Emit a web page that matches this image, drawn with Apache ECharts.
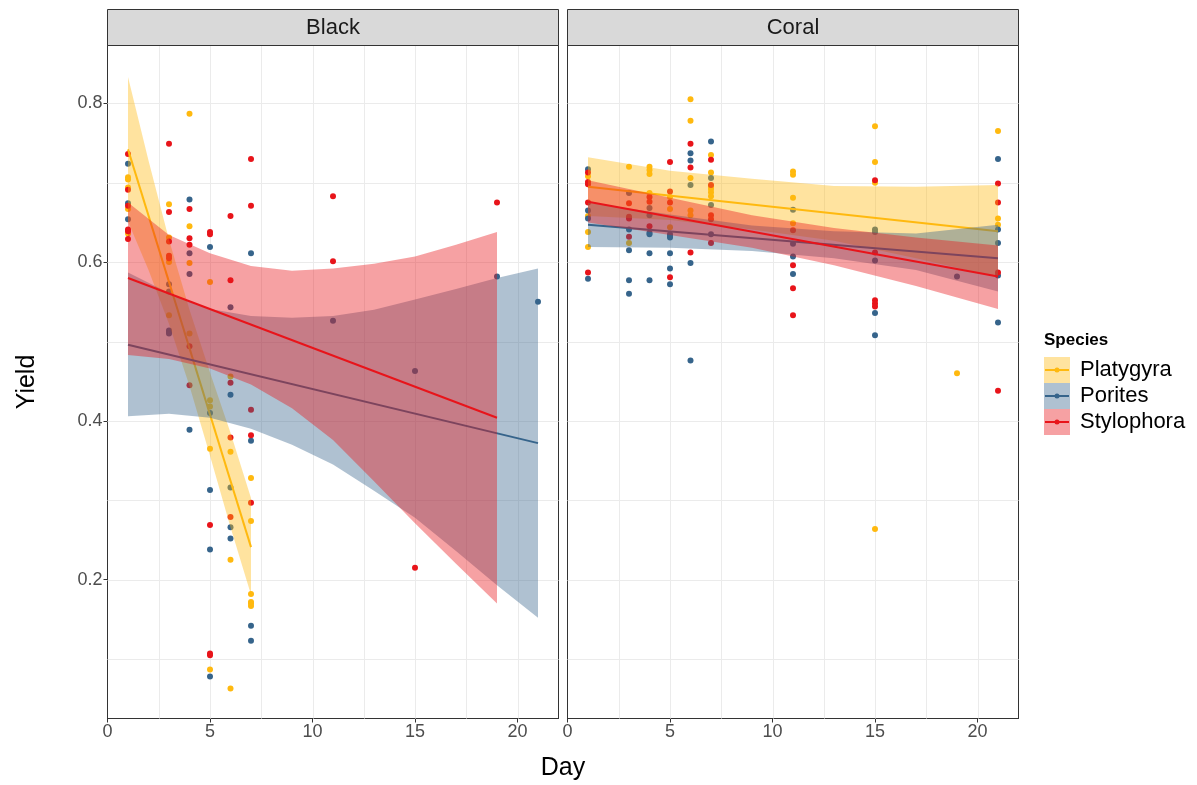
<!DOCTYPE html>
<html><head><meta charset="utf-8">
<script src="https://cdn.jsdelivr.net/npm/echarts@6/dist/echarts.min.js"></script>
<style>html,body{margin:0;padding:0;background:#fff}#c{width:1197px;height:785px}</style>
</head><body><div id="c"></div>
<script>
// ---------- data ----------
const panels = ['Black', 'Coral'];
const species = ['Platygyra', 'Porites', 'Stylophora'];
const xTicks = [0, 5, 10, 15, 20];
const yTicks = [0.2, 0.4, 0.6, 0.8];
const xGridValues = [2.5, 5, 7.5, 10, 12.5, 15, 17.5, 20];
const yGridValues = [0.1, 0.2, 0.3, 0.4, 0.5, 0.6, 0.7, 0.8];
const colors = ['#FFB90F', '#36648B', '#E8141A'];

// points [day, yield]
const blackPlatygyra = [
  [1,0.707],[1,0.704],[1,0.694],[1,0.667],[1,0.636],
  [3,0.673],[3,0.631],[3,0.600],[3,0.533],
  [4,0.787],[4,0.645],[4,0.599],[4,0.510],
  [5,0.575],[5,0.426],[5,0.418],[5,0.365],[5,0.087],
  [6,0.456],[6,0.361],[6,0.225],[6,0.063],
  [7,0.328],[7,0.274],[7,0.182],[7,0.172],[7,0.170],[7,0.167]
];
const blackPorites = [
  [1,0.724],[1,0.674],[1,0.654],
  [3,0.572],[3,0.563],[3,0.514],[3,0.512],[3,0.510],
  [4,0.679],[4,0.611],[4,0.585],[4,0.389],
  [5,0.619],[5,0.410],[5,0.313],[5,0.238],[5,0.078],
  [6,0.543],[6,0.433],[6,0.316],[6,0.266],[6,0.252],
  [7,0.611],[7,0.375],[7,0.142],[7,0.123],
  [11,0.526],[15,0.463],[19,0.582],[21,0.550]
];
const blackStylophora = [
  [1,0.736],[1,0.691],[1,0.671],[1,0.641],[1,0.639],[1,0.629],
  [3,0.749],[3,0.663],[3,0.626],[3,0.608],[3,0.605],
  [4,0.667],[4,0.630],[4,0.622],[4,0.494],[4,0.445],
  [5,0.638],[5,0.635],[5,0.269],[5,0.107],[5,0.105],
  [6,0.658],[6,0.577],[6,0.448],[6,0.379],[6,0.279],
  [7,0.730],[7,0.671],[7,0.414],[7,0.382],[7,0.297],
  [11,0.683],[11,0.601],[15,0.215],[19,0.675]
];
const coralPlatygyra = [
  [1,0.708],[1,0.658],[1,0.638],[1,0.619],
  [3,0.720],[3,0.624],
  [4,0.720],[4,0.716],[4,0.711],[4,0.687],
  [5,0.682],[5,0.667],[5,0.644],
  [6,0.805],[6,0.778],[6,0.706],[6,0.665],[6,0.659],
  [7,0.735],[7,0.713],[7,0.695],[7,0.692],[7,0.688],[7,0.683],
  [11,0.714],[11,0.710],[11,0.681],[11,0.649],
  [15,0.771],[15,0.726],[15,0.700],[15,0.264],
  [19,0.460],
  [21,0.765],[21,0.655],[21,0.647]
];
const coralPorites = [
  [1,0.717],[1,0.665],[1,0.655],[1,0.579],
  [3,0.687],[3,0.641],[3,0.615],[3,0.577],[3,0.560],
  [4,0.668],[4,0.659],[4,0.637],[4,0.635],[4,0.611],[4,0.577],
  [5,0.635],[5,0.633],[5,0.631],[5,0.611],[5,0.592],[5,0.572],
  [6,0.737],[6,0.728],[6,0.697],[6,0.599],[6,0.476],
  [7,0.752],[7,0.706],[7,0.672],[7,0.635],
  [11,0.666],[11,0.623],[11,0.607],[11,0.585],
  [15,0.641],[15,0.638],[15,0.602],[15,0.536],[15,0.508],
  [19,0.582],
  [21,0.730],[21,0.641],[21,0.624],[21,0.583],[21,0.524]
];
const coralStylophora = [
  [1,0.713],[1,0.701],[1,0.698],[1,0.675],[1,0.587],
  [3,0.674],[3,0.657],[3,0.655],[3,0.632],
  [4,0.682],[4,0.676],[4,0.645],
  [5,0.726],[5,0.689],[5,0.675],[5,0.581],
  [6,0.749],[6,0.719],[6,0.612],
  [7,0.729],[7,0.697],[7,0.659],[7,0.654],[7,0.624],
  [11,0.640],[11,0.596],[11,0.567],[11,0.533],
  [15,0.703],[15,0.612],[15,0.552],[15,0.548],[15,0.544],
  [21,0.699],[21,0.675],[21,0.587],[21,0.438]
];

// fitted lines [day, yield]
const blackPlatygyraFit = [[1,0.742],[7,0.241]];
const blackPoritesFit = [[1,0.496],[21,0.372]];
const blackStylophoraFit = [[1,0.580],[19,0.404]];
const coralPlatygyraFit = [[1,0.695],[21,0.639]];
const coralPoritesFit = [[1,0.647],[21,0.605]];
const coralStylophoraFit = [[1,0.676],[21,0.582]];

// confidence bands [day, lower, upper]
const blackPlatygyraBand = [[1,0.651,0.833],[2,0.590,0.728],[3,0.522,0.628],[4,0.444,0.540],[5,0.356,0.461],[6,0.266,0.385],[7,0.181,0.303]];
const blackPoritesBand = [[1,0.406,0.587],[3,0.409,0.561],[5,0.404,0.541],[7,0.390,0.532],[9,0.370,0.530],[11,0.345,0.532],[13,0.312,0.540],[15,0.278,0.553],[17,0.236,0.566],[19,0.193,0.580],[21,0.152,0.592]];
const blackStylophoraBand = [[1,0.483,0.675],[3,0.478,0.634],[5,0.466,0.611],[7,0.446,0.595],[9,0.416,0.589],[11,0.376,0.592],[13,0.324,0.598],[15,0.271,0.607],[17,0.220,0.622],[19,0.170,0.638]];
const coralPlatygyraBand = [[1,0.658,0.732],[5,0.653,0.715],[9,0.641,0.705],[13,0.627,0.696],[17,0.605,0.695],[21,0.581,0.697]];
const coralPoritesBand = [[1,0.619,0.675],[5,0.618,0.660],[9,0.614,0.646],[13,0.605,0.639],[17,0.590,0.636],[21,0.563,0.647]];
const coralStylophoraBand = [[1,0.650,0.703],[5,0.634,0.681],[9,0.618,0.659],[13,0.596,0.643],[17,0.570,0.631],[21,0.541,0.621]];

const pointSets = [[blackPlatygyra, blackPorites, blackStylophora], [coralPlatygyra, coralPorites, coralStylophora]];
const fitSets = [[blackPlatygyraFit, blackPoritesFit, blackStylophoraFit], [coralPlatygyraFit, coralPoritesFit, coralStylophoraFit]];
const bandSets = [[blackPlatygyraBand, blackPoritesBand, blackStylophoraBand], [coralPlatygyraBand, coralPoritesBand, coralStylophoraBand]];

// ---------- layout ----------
const FONT = 'Liberation Sans, Arial, sans-serif';
const gridLeft = [107.5, 567.5];
const gridTop = 45.5, gridW = 451, gridH = 673;
const xMin = 0, xMax = 22;
const yMin = 0.0252, yMax = 0.8728;

function hexA(hex, a) {
  const n = parseInt(hex.slice(1), 16);
  return 'rgba(' + ((n >> 16) & 255) + ',' + ((n >> 8) & 255) + ',' + (n & 255) + ',' + a + ')';
}

const grids = [], xAxes = [], yAxes = [], series = [];
panels.forEach((p, gi) => {
  grids.push({left: gridLeft[gi], top: gridTop, width: gridW, height: gridH, show: true,
    backgroundColor: '#fff', borderColor: '#333', borderWidth: 1});
  xAxes.push({gridIndex: gi, type: 'value', min: xMin, max: xMax,
    axisLine: {show: true, onZero: false, lineStyle: {color: '#333', width: 1}},
    axisTick: {show: true, customValues: xTicks, length: 4, lineStyle: {color: '#333'}},
    axisLabel: {customValues: xTicks, color: '#4D4D4D', fontSize: 18, fontFamily: FONT, margin: 5},
    splitLine: {show: false}});
  yAxes.push({gridIndex: gi, type: 'value', min: yMin, max: yMax,
    name: gi === 0 ? 'Yield' : '', nameLocation: 'middle', nameGap: 68, nameRotate: 90,
    nameTextStyle: {color: '#000', fontSize: 25, fontFamily: FONT},
    axisLine: {show: true, onZero: false, lineStyle: {color: '#333', width: 1}},
    axisTick: {show: gi === 0, customValues: yTicks, length: 4, lineStyle: {color: '#333'}},
    axisLabel: {show: gi === 0, customValues: yTicks, color: '#4D4D4D', fontSize: 18, fontFamily: FONT, margin: 5,
      formatter: v => v.toFixed(1)},
    splitLine: {show: false}});

  // panel grid lines (major + minor), positioned through the axes
  series.push({type: 'custom', name: 'grid' + gi, xAxisIndex: gi, yAxisIndex: gi, z: 1,
    data: [[xMin, yMin]], silent: true, animation: false,
    renderItem: (params, api) => {
      const children = [];
      xGridValues.forEach(v => {
        const a = api.coord([v, yMin]), b = api.coord([v, yMax]);
        const x = Math.round(a[0]) + 0.5;
        children.push({type: 'line', shape: {x1: x, y1: a[1], x2: x, y2: b[1]}, style: {stroke: '#EBEBEB', lineWidth: 1}});
      });
      yGridValues.forEach(v => {
        const a = api.coord([xMin, v]), b = api.coord([xMax, v]);
        const y = Math.round(a[1]) + 0.5;
        children.push({type: 'line', shape: {x1: a[0], y1: y, x2: b[0], y2: y}, style: {stroke: '#EBEBEB', lineWidth: 1}});
      });
      return {type: 'group', children: children};
    }});

  // points underneath
  species.forEach((s, si) => {
    series.push({type: 'scatter', name: s, xAxisIndex: gi, yAxisIndex: gi, z: 2,
      data: pointSets[gi][si], symbol: 'circle', symbolSize: 6,
      itemStyle: {color: colors[si], opacity: 1}, silent: true, animation: false});
  });
  // bands (polygon through the axes' scales) + fits
  species.forEach((s, si) => {
    const band = bandSets[gi][si];
    const fill = hexA(colors[si], 0.4);
    series.push({type: 'custom', name: s + ' band', xAxisIndex: gi, yAxisIndex: gi, z: 3 + si * 2,
      data: [[band[0][0], band[0][1]]], silent: true, animation: false,
      renderItem: (params, api) => {
        const upper = band.map(r => api.coord([r[0], r[2]]));
        const lower = band.slice().reverse().map(r => api.coord([r[0], r[1]]));
        return {type: 'polygon', shape: {points: upper.concat(lower)}, style: {fill: fill}};
      }});
    series.push({type: 'line', name: s + ' fit', xAxisIndex: gi, yAxisIndex: gi, z: 4 + si * 2,
      data: fitSets[gi][si], symbol: 'none',
      lineStyle: {color: colors[si], width: 2}, silent: true, animation: false});
  });
});

// ---------- graphic: strips, x title, legend ----------
const graphic = [];
panels.forEach((p, gi) => {
  graphic.push({type: 'rect', shape: {x: gridLeft[gi], y: 9.5, width: gridW, height: 36},
    style: {fill: '#D9D9D9', stroke: '#333', lineWidth: 1}, z: 10, silent: true});
  graphic.push({type: 'text', x: gridLeft[gi] + gridW / 2, y: 28,
    style: {text: p, fill: '#1A1A1A', font: '22px ' + FONT, align: 'center', verticalAlign: 'middle'}, z: 11, silent: true});
});
graphic.push({type: 'text', x: 563, y: 768,
  style: {text: 'Day', fill: '#000', font: '25px ' + FONT, align: 'center', verticalAlign: 'middle'}, silent: true});
graphic.push({type: 'text', x: 1044, y: 340,
  style: {text: 'Species', fill: '#000', font: 'bold 17px ' + FONT, align: 'left', verticalAlign: 'middle'}, silent: true});
species.forEach((s, si) => {
  const top = 357 + si * 26;
  graphic.push({type: 'rect', shape: {x: 1044, y: top, width: 26, height: 26},
    style: {fill: hexA(colors[si], 0.4)}, silent: true});
  graphic.push({type: 'line', shape: {x1: 1045, y1: top + 13, x2: 1069, y2: top + 13},
    style: {stroke: colors[si], lineWidth: 2}, silent: true});
  graphic.push({type: 'circle', shape: {cx: 1057, cy: top + 13, r: 2.5},
    style: {fill: colors[si]}, silent: true});
  graphic.push({type: 'text', x: 1080, y: top + 13,
    style: {text: s, fill: '#000', font: '22px ' + FONT, align: 'left', verticalAlign: 'middle'}, silent: true});
});

const chart = echarts.init(document.getElementById('c'), null, {renderer: 'canvas'});
chart.setOption({
  animation: false,
  backgroundColor: '#fff',
  grid: grids, xAxis: xAxes, yAxis: yAxes, series: series, graphic: graphic
});
</script></body></html>
